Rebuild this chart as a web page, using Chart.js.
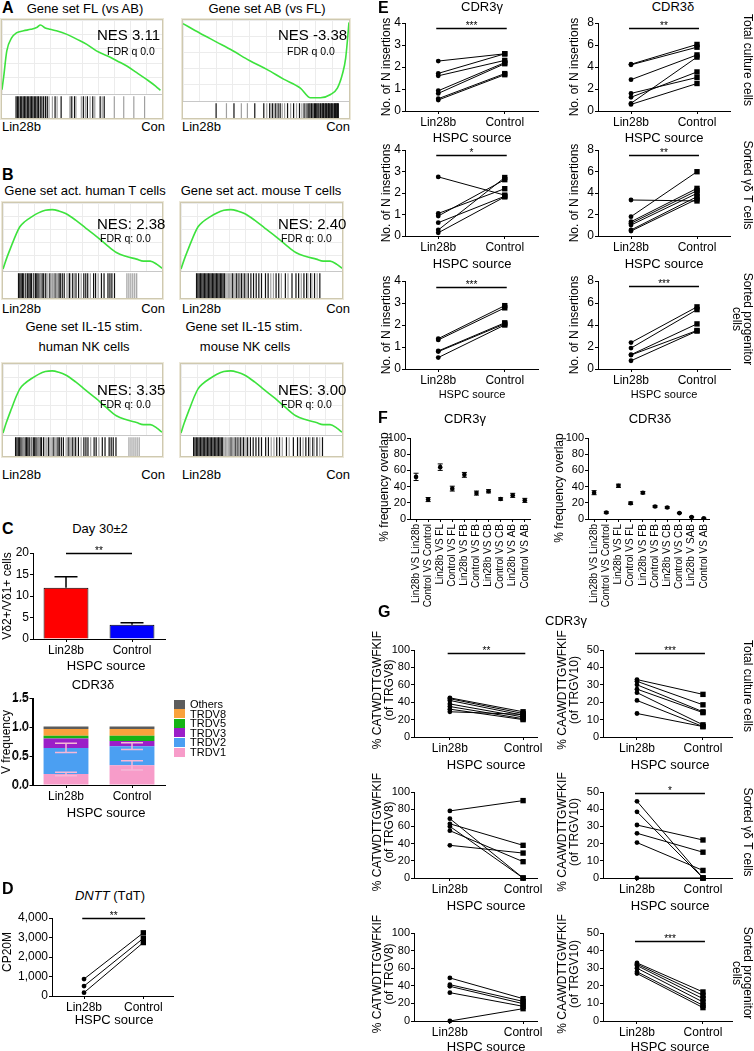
<!DOCTYPE html>
<html>
<head>
<meta charset="utf-8">
<script src="https://cdn.jsdelivr.net/npm/chart.js@4.4.0/dist/chart.umd.min.js"></script>
<style>
body { margin: 0; width: 754px; height: 1051px; position: relative; overflow: hidden; background: #fff;
       font-family: "Liberation Sans", Arial, sans-serif; color: #000; }
canvas { position: absolute; }
.t { position: absolute; white-space: nowrap; line-height: 1; }
</style>
</head>
<body>
<script>
// ---------- data ----------
const xLabels = ['Lin28b', 'Control'];

// A/B: GSEA running enrichment score (x = % of ranked list)
const curveA1x = [0, 1, 3, 6, 9, 13.5, 18, 22, 24, 27, 30, 34, 40.6, 47, 53, 59, 66, 72, 78, 84, 90.6, 96, 99];
const curveA1y = [0.03, 0.2, 0.57, 0.75, 0.82, 0.85, 0.87, 0.9, 0.93, 0.89, 0.87, 0.85, 0.8, 0.73, 0.66, 0.57, 0.5, 0.43, 0.36, 0.27, 0.17, 0.08, 0.02];
const curveA2x = [0, 10, 20, 30, 40, 50.5, 60.6, 70.7, 76.8, 82.8, 88.9, 93, 96, 98, 100];
const curveA2y = [0.955, 0.84, 0.73, 0.62, 0.5, 0.39, 0.27, 0.16, 0.04, 0.04, 0.08, 0.16, 0.33, 0.53, 0.97];
const curveBx = [0, 2.1, 5.3, 8.5, 10.6, 13.8, 18, 22.3, 26.6, 30.9, 35.1, 39.4, 45.7, 52, 58.5, 64.9, 71.3, 77.7, 84, 88.3, 92.6, 96.8, 100];
const curveBy = [0, 0.15, 0.35, 0.54, 0.64, 0.72, 0.79, 0.85, 0.89, 0.9, 0.88, 0.84, 0.74, 0.62, 0.5, 0.37, 0.25, 0.19, 0.15, 0.12, 0.12, 0.07, 0.01];

// barcode hit positions (% of ranked list), dark and grey ticks
const hitsA1Dark = [1, 2, 3, 4.2, 5.2, 6.3, 7.3, 8.3, 9.4, 10.4, 11.5, 12.5, 13.5, 14.6, 15.6, 16.7, 17.7, 19, 20.2, 21.5, 22.9, 24.2, 30, 34.5, 42, 44.5, 51, 54, 58, 63.5, 66.5];
const hitsA1Light = [25.5, 28, 31.5, 41, 43, 45.5, 49.5, 52.5, 56, 59.5, 65, 74, 81, 88.5, 96.5];
const hitsA2Dark = [16.2, 28.3, 42.4, 48.5, 52.5, 54.5, 56.6, 58.2, 59.6, 64.6, 68.7, 72.7, 75.8, 77.8, 79, 79.8, 80.8, 81.8, 82.8, 83.6, 84.4, 85.2, 85.9, 86.9, 87.9, 88.5, 88.9, 89.9, 90.5, 90.9, 91.9, 92.4, 92.9, 93.9, 94.5, 94.9, 96, 96.5, 97, 97.5, 98, 98.5, 99];
const hitsA2Light = [23.2, 33.3, 37.4, 50.5, 53.5, 55.6, 57.5, 61, 62.6, 66.7, 70.7, 74.3, 76.8];
const hitsHumanDark = [1, 2, 3, 4, 5, 6.5, 8, 9, 10, 11, 12.5, 14, 15, 16, 17.5, 19, 20, 21.5, 25, 29, 32, 33, 34.5, 36, 40, 42.5, 45, 47, 51, 52.5, 54, 58.5, 60, 64.5, 66.5, 69.5, 71, 72.5, 74.5];
const hitsHumanLight = [7, 13, 18, 22.5, 23.5, 26, 27, 28, 30, 31, 38, 39, 41, 43.5, 44, 49, 56, 62, 84, 85.5, 87, 88.5, 90, 91.5];
const hitsMouseDark = [1, 2, 3, 4, 5, 6, 7, 8, 9, 10, 11, 12, 13, 14, 15, 16, 17, 18, 19, 20, 21, 22, 28, 31, 33, 35, 37, 40, 42, 44, 46, 48, 50, 53, 55, 61, 63, 68, 73, 76, 78, 82, 84, 87, 90, 94];
const hitsMouseLight = [23, 24, 25, 26, 27, 29, 30, 32, 34, 36, 38, 39, 57, 59, 65, 70, 80, 85, 88, 92];

// C: Vd2+/Vd1+ ratio
const ratioMean = [11.9, 3.3];
const ratioErr = [2.6, 0.5];
// C: CDR3d V usage (stacked)
const trdv1 = [0.19, 0.34];
const trdv2 = [0.45, 0.33];
const trdv3 = [0.16, 0.09];
const trdv5 = [0.05, 0.09];
const trdv8 = [0.115, 0.115];
const trdvOthers = [0.045, 0.045];
const trdv1Err = [0.03, 0.08];
const trdv2Err = [0.08, 0.06];

// D: DNTT CP20M
const dnttLin = [870, 510, 170];
const dnttCtl = [3240, 2960, 2740];

// E: No. of N insertions
const eGammaTotalLin = [2.27, 1.71, 1.6, 0.92, 0.8, 0.56, 0.5];
const eGammaTotalCtl = [2.6, 2.6, 2.3, 2.2, 2.15, 1.7, 1.65];
const eDeltaTotalLin = [4.25, 4.2, 2.85, 1.6, 1.25, 0.7, 0.6];
const eDeltaTotalCtl = [6.05, 5.8, 5.1, 3.05, 3.55, 4.9, 2.5];
const eGammaSortedLin = [2.75, 1.05, 0.93, 0.62, 0.28, 0.15];
const eGammaSortedCtl = [1.9, 2.2, 2.62, 1.85, 2.72, 1.82];
const eDeltaSortedLin = [3.35, 1.8, 1.33, 1.18, 1.02, 0.56, 0.46];
const eDeltaSortedCtl = [3.26, 5.98, 4.43, 4.22, 3.97, 3.66, 3.44];
const eGammaProgLin = [1.38, 1.32, 0.82, 0.79, 0.52];
const eGammaProgCtl = [2.88, 2.78, 2.1, 2.05, 2.0];
const eDeltaProgLin = [2.4, 1.9, 1.3, 1.27, 0.75];
const eDeltaProgCtl = [5.65, 5.4, 4.1, 3.5, 3.45];

// F: % frequency overlap
const fLabelsGamma = ['Lin28b VS Lin28b', 'Control VS Control', 'Lin28b VS FL', 'Control VS FL', 'Lin28b VS FB', 'Control VS FB', 'Lin28b VS CB', 'Control VS CB', 'Lin28b VS AB', 'Control VS AB'];
const fLabelsDelta = ['Lin28b VS Lin28b', 'Control VS Control', 'Lin28b VS FL', 'Control VS FL', 'Lin28b VS FB', 'Control VS FB', 'Lin28b VS CB', 'Control VS CB', 'Lin28b V SAB', 'Control VS AB'];
const fGamma = [52, 24, 64, 37.5, 54.5, 32, 34.2, 24.7, 29.2, 23];
const fGammaErr = [4.5, 2.5, 4, 3, 3, 2.5, 2, 1.5, 2.5, 2.5];
const fDelta = [32.5, 8, 41, 19.5, 32.5, 15.5, 14.2, 7.3, 2.4, 0.8];
const fDeltaErr = [2.5, 1, 2, 1.5, 1.5, 1, 1, 0.6, 0.6, 0.5];

// G: % CDR3 clone of TRGV8 / TRGV10
const gV8TotalLin = [45, 44, 42, 38, 35, 32, 29];
const gV8TotalCtl = [29, 27, 25, 23, 21, 20, 26];
const gV10TotalLin = [33, 32, 30, 27.5, 25.5, 21, 13.5];
const gV10TotalCtl = [24.5, 18.5, 14.5, 14, 7, 6, 6];
const gV8SortedLin = [78, 63, 38, 55, 69, 60];
const gV8SortedCtl = [90, 38, 29, 19, 0, 0];
const gV10SortedLin = [44.6, 38.5, 30.8, 26, 20.6, 0];
const gV10SortedCtl = [0, 0, 22.1, 15, 4.4, 0];
const gV8ProgLin = [48.9, 41.3, 39.4, 32.2, 0];
const gV8ProgCtl = [25.4, 22.3, 19.7, 16.7, 14];
const gV10ProgLin = [33, 32.3, 31.5, 30, 28, 27];
const gV10ProgCtl = [16.5, 14.6, 12.7, 10.8, 8.9, 7.6];

// ---------- chart setup ----------
Chart.defaults.font.family = '"Liberation Sans", Arial, sans-serif';
Chart.defaults.font.size = 11;
Chart.defaults.color = '#000';
Chart.defaults.animation = false;
Chart.defaults.responsive = false;
Chart.defaults.devicePixelRatio = 1;
Chart.defaults.plugins.legend.display = false;
Chart.defaults.plugins.tooltip.enabled = false;

// significance bar with asterisks
const sigPlugin = {
  id: 'sig',
  afterDatasetsDraw(chart, args, o) {
    if (!o || !o.text) return;
    const xs = chart.scales.x, ys = chart.scales.y, ctx = chart.ctx;
    const y = Math.round(ys.getPixelForValue(o.y)) + 0.5;
    const x0 = xs.getPixelForValue(o.x0), x1 = xs.getPixelForValue(o.x1);
    ctx.save();
    ctx.strokeStyle = '#000';
    ctx.lineWidth = 1.5;
    ctx.beginPath(); ctx.moveTo(x0, y); ctx.lineTo(x1, y); ctx.stroke();
    ctx.fillStyle = '#000';
    ctx.font = '10px "Liberation Sans", Arial, sans-serif';
    ctx.textAlign = 'center';
    ctx.textBaseline = 'bottom';
    ctx.fillText(o.text, (x0 + x1) / 2, y + 3);
    ctx.restore();
  }
};

// error bars at the top edge of bar / point elements
const errPlugin = {
  id: 'err',
  afterDatasetsDraw(chart, args, o) {
    if (!o || !o.sets) return;
    const ys = chart.scales.y, ctx = chart.ctx;
    ctx.save();
    o.sets.forEach(s => {
      const meta = chart.getDatasetMeta(s.ds);
      ctx.strokeStyle = s.color || '#000';
      ctx.lineWidth = s.width || 1;
      meta.data.forEach((el, j) => {
        const e = s.err[j];
        if (!e) return;
        const d = ys.getPixelForValue(0) - ys.getPixelForValue(e);
        const top = el.y - d, bot = s.up ? el.y : el.y + d;
        const h = s.cap / 2;
        ctx.beginPath();
        ctx.moveTo(el.x, top); ctx.lineTo(el.x, bot);
        ctx.moveTo(el.x - h, top); ctx.lineTo(el.x + h, top);
        if (!s.up) { ctx.moveTo(el.x - h, bot); ctx.lineTo(el.x + h, bot); }
        ctx.stroke();
      });
    });
    ctx.restore();
  }
};

// re-stroke the value axis (line, ticks, labels) from the scale's own ticks
const yAxisRedraw = {
  id: 'yredraw',
  afterDraw(chart, args, o) {
    if (!o || !o.on) return;
    const ys = chart.scales.y, ctx = chart.ctx;
    const x = Math.round(ys.right) - 0.5;
    ctx.save();
    ctx.strokeStyle = '#000';
    ctx.lineWidth = 1;
    ctx.beginPath(); ctx.moveTo(x, ys.top); ctx.lineTo(x, ys.bottom); ctx.stroke();
    ctx.fillStyle = '#000';
    ctx.font = '12px "Liberation Sans", Arial, sans-serif';
    ctx.textAlign = 'right';
    ctx.textBaseline = 'middle';
    ys.ticks.forEach(t => {
      const y = Math.round(ys.getPixelForValue(t.value)) + 0.5;
      ctx.beginPath(); ctx.moveTo(x - 3, y); ctx.lineTo(x, y); ctx.stroke();
      ctx.fillText(t.label, x - 4, y);
    });
    ctx.restore();
  }
};
Chart.register(sigPlugin, errPlugin, yAxisRedraw);

function makeCanvas(x, y, w, h) {
  const c = document.createElement('canvas');
  c.width = w; c.height = h;
  c.style.left = x + 'px'; c.style.top = y + 'px';
  c.style.width = w + 'px'; c.style.height = h + 'px';
  document.body.appendChild(c);
  return c;
}

function txt(s, x, y, o = {}) {
  const d = document.createElement('div');
  d.className = 't';
  d.innerHTML = s;
  d.style.left = x + 'px';
  d.style.top = y + 'px';
  d.style.fontSize = (o.size || 13) + 'px';
  if (o.bold) d.style.fontWeight = 'bold';
  if (o.lh) d.style.lineHeight = o.lh;
  if (o.align) d.style.textAlign = o.align;
  let tf = o.anchor === 'lt' ? '' : (o.anchor === 'rc' ? 'translate(-100%,-50%)' : (o.anchor === 'lc' ? 'translate(0,-50%)' : 'translate(-50%,-50%)'));
  if (o.rot) tf += ' rotate(' + o.rot + 'deg)';
  d.style.transform = tf;
  document.body.appendChild(d);
}

function yAxis(max, step, size, width, fmt) {
  return {
    type: 'linear', position: 'left', min: 0, max: max,
    ticks: { stepSize: step, font: { size: size }, padding: 1, autoSkip: false, callback: fmt || (v => v) },
    grid: { drawOnChartArea: false, drawTicks: true, tickLength: 3, color: '#000' },
    border: { color: '#000', width: 1 },
    afterFit: s => { s.width = width; }
  };
}

function xPair(xmin, xmax) {
  return {
    type: 'linear', min: xmin, max: xmax,
    afterBuildTicks: s => { s.ticks = [{ value: 0 }, { value: 1 }]; },
    ticks: { callback: v => xLabels[v], font: { size: 12 }, padding: 1, maxRotation: 0, autoSkip: false },
    grid: { drawOnChartArea: false, tickLength: 3, color: '#000' },
    border: { color: '#000', width: 1 },
    afterFit: s => { s.height = 20; }
  };
}

const xCat = () => ({
  type: 'category', offset: true, ticks: { font: { size: 12 }, padding: 1 },
  grid: { drawOnChartArea: false, offset: false, tickLength: 3, color: '#000' },
  border: { color: '#000' }, afterFit: s => { s.height = 20; }
});

// paired Lin28b -> Control plot
function pairPlot(ax, top, bot, right, yMax, yStep, lin, ctl, xmin, xmax, sigText, sigY, fmt, tickSize) {
  const padT = 16, padR = 12, yW = 44, xH = 20;
  const left = ax - yW;
  const c = makeCanvas(left, top - padT, right + padR - left, padT + (bot - top) + xH);
  return new Chart(c, {
    type: 'line',
    data: {
      datasets: lin.map((v, i) => ({
        data: [{ x: 0, y: v }, { x: 1, y: ctl[i] }],
        borderColor: '#000', borderWidth: 1,
        pointStyle: ['circle', 'rect'], pointRadius: [2.4, 3.8],
        pointBackgroundColor: '#000', pointBorderColor: '#000', pointBorderWidth: 0,
        clip: false
      }))
    },
    options: {
      layout: { padding: { top: padT, right: padR, left: 0, bottom: 0 } },
      plugins: { sig: sigText ? { text: sigText, y: sigY, x0: -0.03, x1: 1.03 } : {} },
      scales: { x: xPair(xmin, xmax), y: yAxis(yMax, yStep, tickSize || 12, yW, fmt) }
    }
  });
}

// overlap plot with error bars
function overlapPlot(ax, top, bot, right, labels, vals, errs) {
  const padT = 8, padR = 4, yW = 40, xH = 90;
  const left = ax - yW;
  const c = makeCanvas(left, top - padT, right + padR - left, padT + (bot - top) + xH);
  return new Chart(c, {
    type: 'line',
    data: { labels: labels, datasets: [{ data: vals, showLine: false, pointRadius: 2.3, pointBackgroundColor: '#000', pointBorderColor: '#000', pointBorderWidth: 0 }] },
    options: {
      layout: { padding: { top: padT, right: padR, left: 0, bottom: 0 } },
      plugins: { err: { sets: [{ ds: 0, err: errs, cap: 5 }] } },
      scales: {
        x: {
          type: 'category', offset: true,
          ticks: { minRotation: 90, maxRotation: 90, autoSkip: false, font: { size: 10 }, padding: 2 },
          grid: { drawOnChartArea: false, tickLength: 3, color: '#000' },
          border: { color: '#000', width: 1 },
          afterFit: s => { s.height = xH; }
        },
        y: yAxis(100, 20, 11, yW)
      }
    }
  });
}

// GSEA enrichment plot: curve + barcode
function hiddenAxis(min, max, step, showGrid) {
  return {
    type: 'linear', min: min, max: max,
    ticks: { display: false, stepSize: step },
    grid: { display: showGrid, color: '#ececec', drawTicks: false },
    border: { display: false },
    afterFit: s => { s.width = 0; s.height = 0; }
  };
}
function gsea(x, y, w, hc, hb, cx, cy, dark, light, ymin, ymax) {
  const box = document.createElement('div');
  box.style.cssText = 'position:absolute;left:' + x + 'px;top:' + y + 'px;width:' + w + 'px;height:' + (hc + hb + 1) +
    'px;border:1px solid #cfc9b0;box-shadow:0 0 0 1px #ebe7d8;';
  document.body.appendChild(box);
  const sep = document.createElement('div');
  sep.style.cssText = 'position:absolute;left:' + (x + 1) + 'px;top:' + (y + 1 + hc) + 'px;width:' + w + 'px;height:1px;background:#c8c8c8;';
  document.body.appendChild(sep);
  new Chart(makeCanvas(x + 1, y + 1, w, hc), {
    type: 'line',
    data: { datasets: [{ data: cx.map((v, i) => ({ x: v, y: cy[i] })), borderColor: '#3de23d', borderWidth: 1.6, pointRadius: 0, cubicInterpolationMode: 'monotone' }] },
    options: { layout: { padding: 0 }, scales: { x: hiddenAxis(0, 100, 10, true), y: hiddenAxis(ymin, ymax, 0.2, true) } }
  });
  const bar = (hits, col) => ({
    data: hits.map(v => ({ x: v, y: 0.5 })), pointStyle: 'line', rotation: 90,
    pointRadius: hb / 2, pointBorderColor: col, pointBorderWidth: 1.2, clip: false
  });
  new Chart(makeCanvas(x + 1, y + 2 + hc, w, hb), {
    type: 'scatter',
    data: { datasets: [bar(light, '#a0a0a0'), bar(dark, '#111')] },
    options: { layout: { padding: 0 }, scales: { x: hiddenAxis(0, 100, 10, false), y: hiddenAxis(0, 1, 1, false) } }
  });
}

// ---------- A ----------
gsea(1, 19, 160, 74, 23, curveA1x, curveA1y, hitsA1Dark, hitsA1Light, -0.03, 1.0);
gsea(182, 19, 166, 81, 16, curveA2x, curveA2y, hitsA2Dark, hitsA2Light, 0, 1.0);
txt('A', 2, 0, { anchor: 'lt', bold: true, size: 16 });
txt('Gene set FL (vs AB)', 85, 8);
txt('Gene set AB (vs FL)', 267, 8);
txt('NES 3.11', 97, 27, { anchor: 'lt', size: 15 });
txt('FDR q 0.0', 107, 46, { anchor: 'lt', size: 10.5 });
txt('NES -3.38', 278, 27, { anchor: 'lt', size: 15 });
txt('FDR q 0.0', 287, 46, { anchor: 'lt', size: 10.5 });
txt('Lin28b', 2, 126, { anchor: 'lc' });
txt('Con', 165, 126, { anchor: 'rc' });
txt('Lin28b', 182, 126, { anchor: 'lc' });
txt('Con', 350, 126, { anchor: 'rc' });

// ---------- B ----------
gsea(2, 202, 159, 68, 26, curveBx, curveBy, hitsHumanDark, hitsHumanLight, -0.03, 1.0);
gsea(180, 202, 161, 68, 26, curveBx, curveBy, hitsMouseDark, hitsMouseLight, -0.03, 1.0);
gsea(2, 363, 159, 71, 20, curveBx, curveBy, hitsHumanDark, hitsHumanLight, -0.03, 1.0);
gsea(180, 363, 161, 71, 20, curveBx, curveBy, hitsMouseDark, hitsMouseLight, -0.03, 1.0);
txt('B', 2, 167, { anchor: 'lt', bold: true, size: 16 });
txt('Gene set act. human T cells', 85, 190);
txt('Gene set act. mouse T cells', 261, 190);
txt('Gene set IL-15 stim.', 84, 326);
txt('human NK cells', 84, 346);
txt('Gene set IL-15 stim.', 244, 326);
txt('mouse NK cells', 245, 346);
[[97, 216, 'NES: 2.38'], [278, 216, 'NES: 2.40'], [97, 382, 'NES: 3.35'], [278, 382, 'NES: 3.00']].forEach(n => {
  txt(n[2], n[0], n[1], { anchor: 'lt', size: 15 });
  txt('FDR q: 0.0', n[0] + 3, n[1] + 17, { anchor: 'lt', size: 10.5 });
});
[[308, 1], [474, 1]].forEach(r => {
  txt('Lin28b', 2, r[0], { anchor: 'lc' });
  txt('Con', 165, r[0], { anchor: 'rc' });
  txt('Lin28b', 182, r[0], { anchor: 'lc' });
  txt('Con', 350, r[0], { anchor: 'rc' });
});

// ---------- C (ratio) ----------
txt('C', 2, 521, { anchor: 'lt', bold: true, size: 16 });
txt('Day 30±2', 100, 528);
new Chart(makeCanvas(33 - 40, 553 - 16, 165 + 8 - (33 - 40), 16 + 86 + 20), {
  type: 'bar',
  data: { labels: xLabels, datasets: [{ data: ratioMean, backgroundColor: ['#ff0000', '#0000ff'], borderColor: '#000', borderWidth: 1, barPercentage: 0.68, categoryPercentage: 1 }] },
  options: {
    layout: { padding: { top: 16, right: 8, left: 0, bottom: 0 } },
    plugins: { sig: { text: '**', y: 20, x0: 0, x1: 1 }, err: { sets: [{ ds: 0, err: ratioErr, cap: 23, up: true, width: 1.5 }] } },
    scales: { x: xCat(), y: yAxis(20, 5, 12, 40) }
  }
});
txt('Vδ2+/Vδ1+ cells', 7, 596, { size: 12, rot: -90 });
txt('HSPC source', 106, 665);

// ---------- D ----------
txt('D', 2, 881, { anchor: 'lt', bold: true, size: 16 });
txt('<i>DNTT</i> (TdT)', 110, 895);
pairPlot(52, 918, 996, 173, 4000, 1000, dnttLin, dnttCtl, -0.54, 1.5, '**', 4000, v => v.toLocaleString('en-US'));
txt('CP20M', 7, 952, { size: 12, rot: -90 });
txt('HSPC source', 114, 1019);

// ---------- E ----------
txt('E', 378, 0, { anchor: 'lt', bold: true, size: 16 });
txt('CDR3γ', 482, 6);
txt('CDR3δ', 673, 6);
pairPlot(405, 23, 111, 538, 4, 1, eGammaTotalLin, eGammaTotalCtl, -0.5, 1.5, '***', 3.78);
pairPlot(598, 23, 111, 730, 8, 2, eDeltaTotalLin, eDeltaTotalCtl, -0.5, 1.5, '**', 7.55);
pairPlot(405, 150, 236, 538, 4, 1, eGammaSortedLin, eGammaSortedCtl, -0.5, 1.5, '*', 3.77);
pairPlot(598, 150, 236, 730, 8, 2, eDeltaSortedLin, eDeltaSortedCtl, -0.5, 1.5, '**', 7.55);
pairPlot(405, 281, 369, 538, 4, 1, eGammaProgLin, eGammaProgCtl, -0.5, 1.5, '***', 3.74);
pairPlot(598, 281, 369, 730, 8, 2, eDeltaProgLin, eDeltaProgCtl, -0.5, 1.5, '***', 7.55);
[67, 193, 325].forEach(cy => {
  txt('No. of N insertions', 386, cy, { size: 12, rot: -90 });
  txt('No. of N insertions', 574, cy, { size: 12, rot: -90 });
});
txt('HSPC source', 472, 137); txt('HSPC source', 664, 137);
txt('HSPC source', 472, 263); txt('HSPC source', 664, 263);
txt('HSPC source', 472, 394, { size: 11 }); txt('HSPC source', 664, 394, { size: 11 });
txt('Total culture cells', 748, 60, { size: 12, rot: 90 });
txt('Sorted γδ T cells', 748, 185, { size: 12, rot: 90 });
txt('Sorted progenitor<br>cells', 742, 319, { size: 12, rot: 90, align: 'center', lh: '0.95' });

// ---------- F ----------
txt('F', 378, 410, { anchor: 'lt', bold: true, size: 16 });
txt('CDR3γ', 465, 418);
txt('CDR3δ', 650, 418);
overlapPlot(410, 438, 519, 535, fLabelsGamma, fGamma, fGammaErr);
overlapPlot(588, 438, 519, 714, fLabelsDelta, fDelta, fDeltaErr);
txt('% frequency overlap', 384, 487, { size: 12, rot: -90 });
txt('% frequency overlap', 559, 488, { size: 12, rot: -90 });

// ---------- G ----------
txt('G', 378, 604, { anchor: 'lt', bold: true, size: 16 });
txt('CDR3γ', 566, 620);
pairPlot(414, 650, 737, 537, 100, 20, gV8TotalLin, gV8TotalCtl, -0.49, 1.19, '**', 96.5, null, 11);
pairPlot(603, 650, 737, 732, 50, 10, gV10TotalLin, gV10TotalCtl, -0.515, 1.44, '***', 48.3, null, 11);
pairPlot(414, 792, 878, 537, 100, 20, gV8SortedLin, gV8SortedCtl, -0.49, 1.19, null, 0, null, 11);
pairPlot(603, 792, 878, 732, 50, 10, gV10SortedLin, gV10SortedCtl, -0.515, 1.44, '*', 49.5, null, 11);
pairPlot(414, 933, 1021, 537, 100, 20, gV8ProgLin, gV8ProgCtl, -0.49, 1.19, null, 0, null, 11);
pairPlot(603, 933, 1021, 732, 50, 10, gV10ProgLin, gV10ProgCtl, -0.515, 1.44, '***', 45.5, null, 11);
[690, 832, 974].forEach(cy => {
  txt('% CATWDTTGWFKIF<br>(of TRGV8)', 383, cy, { size: 12, rot: -90, align: 'center', lh: '1.0' });
  txt('% CAAWDTTGWFKIF<br>(of TRGV10)', 568, cy, { size: 12, rot: -90, align: 'center', lh: '1.0' });
});
txt('HSPC source', 486, 764); txt('HSPC source', 670, 764);
txt('HSPC source', 486, 905); txt('HSPC source', 670, 905);
txt('HSPC source', 486, 1046); txt('HSPC source', 670, 1046);
txt('Total culture cells', 748, 686, { size: 12, rot: 90 });
txt('Sorted γδ T cells', 748, 832, { size: 12, rot: 90 });
txt('Sorted progenitor<br>cells', 742, 973, { size: 12, rot: 90, align: 'center', lh: '0.95' });

// ---------- C (CDR3d V usage) ----------
txt('CDR3δ', 93, 684);
const vColors = { TRDV1: '#f79cc9', TRDV2: '#4b9ff2', TRDV3: '#9b1ec8', TRDV5: '#16b316', TRDV8: '#f9a23c', Others: '#5c5c5c' };
const vSets = [['TRDV1', trdv1], ['TRDV2', trdv2], ['TRDV3', trdv3], ['TRDV5', trdv5], ['TRDV8', trdv8], ['Others', trdvOthers]];
// segments as floating bars [bottom, top] built from the stacked values
const vBase = [0, 0];
const vDatasets = vSets.map(s => {
  const seg = s[1].map((v, j) => { const lo = vBase[j]; vBase[j] = lo + v; return [lo, lo + v]; });
  return { label: s[0], data: seg, backgroundColor: vColors[s[0]], borderWidth: 0, barPercentage: 0.68, categoryPercentage: 1, grouped: false };
});
new Chart(makeCanvas(33 - 40, 698 - 14, 165 + 8 - (33 - 40), 14 + 87 + 20), {
  type: 'bar',
  data: { labels: xLabels, datasets: vDatasets },
  options: {
    layout: { padding: { top: 14, right: 8, left: 0, bottom: 0 } },
    plugins: {
      yredraw: { on: true },
      err: { sets: [{ ds: 0, err: trdv1Err, cap: 22, color: '#f6b7d7', width: 1.5 }, { ds: 1, err: trdv2Err, cap: 22, color: '#f6b7d7', width: 1.5 }] }
    },
    scales: { x: xCat(), y: yAxis(1.5, 0.5, 12, 40, v => Number(v).toFixed(1)) }
  }
});
txt('V frequency', 6, 742, { size: 12, rot: -90 });
txt('HSPC source', 106, 812);
vSets.slice().reverse().forEach((s, i) => {
  const y = 704 + i * 9.6;
  const sq = document.createElement('div');
  sq.style.cssText = 'position:absolute;left:174px;top:' + (y - 4.5) + 'px;width:11px;height:9px;background:' + vColors[s[0]] + ';';
  document.body.appendChild(sq);
  txt(s[0], 190, y, { anchor: 'lc', size: 11 });
});
</script>
</body>
</html>
